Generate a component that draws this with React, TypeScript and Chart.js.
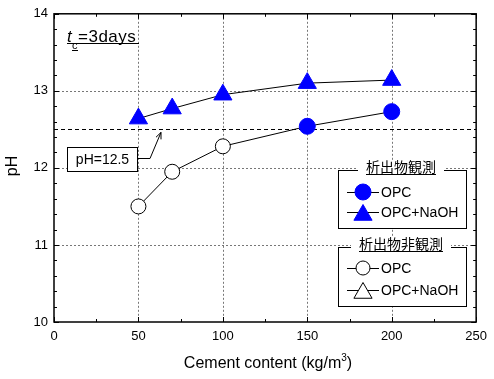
import React, { useEffect, useRef } from "react";
import { Chart, registerables } from "chart.js";
Chart.register(...registerables);

// ---- data ----
const cementOPC = [50, 70, 100, 150, 200];
const phOPC = [11.5, 11.95, 12.28, 12.54, 12.73];
const precipitateOPC = [false, false, false, true, true];
const cementNaOH = [50, 70, 100, 150, 200];
const phNaOH = [12.64, 12.77, 12.95, 13.1, 13.14];
const xTicks = [0, 50, 100, 150, 200, 250];
const yTicks = [10, 11, 12, 13, 14];
const thresholdPH = 12.5;
const thresholdLabel = "pH=12.5";
const legendGroups = ["析出物観測", "析出物非観測"];
const legendSeries = ["OPC", "OPC+NaOH"];
const xTitle = "Cement content (kg/m";
const yTitle = "pH";

const FONT = '"Liberation Sans", Arial, sans-serif';
const CJK = '"Noto Sans CJK JP", sans-serif';
const BLUE = "#0000ff";

function drawCircle(ctx: CanvasRenderingContext2D, x: number, y: number, r: number, filled: boolean) {
  ctx.beginPath();
  ctx.arc(x, y, r, 0, Math.PI * 2);
  ctx.fillStyle = filled ? BLUE : "#fff";
  ctx.fill();
  ctx.strokeStyle = filled ? BLUE : "#000";
  ctx.lineWidth = 1;
  ctx.stroke();
}
function drawTri(ctx: CanvasRenderingContext2D, x: number, y: number, r: number, filled: boolean) {
  ctx.beginPath();
  for (let i = 0; i < 3; i++) {
    const a = (i * 2 * Math.PI) / 3;
    const px = x + Math.sin(a) * r;
    const py = y - Math.cos(a) * r;
    if (i === 0) ctx.moveTo(px, py);
    else ctx.lineTo(px, py);
  }
  ctx.closePath();
  ctx.fillStyle = filled ? BLUE : "#fff";
  ctx.fill();
  ctx.strokeStyle = filled ? BLUE : "#000";
  ctx.lineWidth = 1;
  ctx.stroke();
}

const decor = {
  id: "decor",
  beforeDatasetsDraw(chart: any) {
    const { ctx, chartArea: a, scales } = chart;
    const x = scales.x, y = scales.y;
    ctx.save();
    ctx.strokeStyle = "#777";
    ctx.lineWidth = 1;
    ctx.setLineDash([2, 2]);
    for (const v of xTicks) {
      if (v <= x.min || v >= x.max) continue;
      const px = Math.round(x.getPixelForValue(v)) + 0.5;
      ctx.beginPath(); ctx.moveTo(px, a.top); ctx.lineTo(px, a.bottom); ctx.stroke();
    }
    for (const v of yTicks) {
      if (v <= y.min || v >= y.max) continue;
      const py = Math.round(y.getPixelForValue(v)) + 0.5;
      ctx.beginPath(); ctx.moveTo(a.left, py); ctx.lineTo(a.right, py); ctx.stroke();
    }
    ctx.strokeStyle = "#000";
    ctx.setLineDash([4, 3]);
    const ty = Math.round(y.getPixelForValue(thresholdPH)) + 0.5;
    ctx.beginPath(); ctx.moveTo(a.left, ty); ctx.lineTo(a.right, ty); ctx.stroke();
    ctx.restore();
  },
  afterDatasetsDraw(chart: any) {
    const { ctx, chartArea: a, scales } = chart;
    const x = scales.x, y = scales.y;
    ctx.save();
    ctx.setLineDash([]);
    // frame
    ctx.strokeStyle = "#000";
    ctx.lineWidth = 1.5;
    ctx.strokeRect(a.left, a.top, a.right - a.left, a.bottom - a.top);
    // ticks
    ctx.lineWidth = 1;
    for (let v = x.min; v <= x.max + 0.001; v += 25) {
      const major = Math.abs(v % 50) < 0.001;
      const len = major ? 5 : 3;
      const px = Math.round(x.getPixelForValue(v)) + 0.5;
      ctx.beginPath();
      ctx.moveTo(px, a.bottom); ctx.lineTo(px, a.bottom - len);
      ctx.moveTo(px, a.top); ctx.lineTo(px, a.top + len);
      ctx.stroke();
    }
    for (let i = 0; i <= 20; i++) {
      const v = y.min + i * 0.2;
      const major = i % 5 === 0;
      const len = major ? 5 : 3;
      const py = Math.round(y.getPixelForValue(v)) + 0.5;
      ctx.beginPath();
      ctx.moveTo(a.left, py); ctx.lineTo(a.left + len, py);
      ctx.moveTo(a.right, py); ctx.lineTo(a.right - len, py);
      ctx.stroke();
    }

    // threshold annotation
    ctx.fillStyle = "#fff";
    ctx.fillRect(67, 147, 70, 24);
    ctx.strokeStyle = "#000";
    ctx.strokeRect(67.5, 147.5, 70, 24);
    ctx.fillStyle = "#000";
    ctx.font = `14px ${FONT}`;
    ctx.textAlign = "center";
    ctx.textBaseline = "middle";
    ctx.fillText(thresholdLabel, 102.5, 160);
    const tipX = 161, tipY = y.getPixelForValue(thresholdPH) + 3;
    ctx.beginPath();
    ctx.moveTo(137.5, 158.5); ctx.lineTo(150, 158.5); ctx.lineTo(tipX, tipY);
    ctx.stroke();
    const ang = Math.atan2(tipY - 158.5, tipX - 150);
    ctx.beginPath();
    for (const s of [-1, 1]) {
      ctx.moveTo(tipX, tipY);
      ctx.lineTo(tipX - 7 * Math.cos(ang + s * 0.4), tipY - 7 * Math.sin(ang + s * 0.4));
    }
    ctx.stroke();

    // legends
    const boxes = [
      { top: 170, bottom: 228, rows: [192, 212], filled: true },
      { top: 247, bottom: 306, rows: [268, 290], filled: false },
    ];
    boxes.forEach((b, gi) => {
      ctx.fillStyle = "#fff";
      ctx.fillRect(338, b.top, 128, b.bottom - b.top);
      ctx.strokeStyle = "#000";
      ctx.lineWidth = 1;
      ctx.strokeRect(338.5, b.top + 0.5, 128, b.bottom - b.top);
      ctx.font = `14px ${CJK}`;
      const title = legendGroups[gi];
      const tw = ctx.measureText(title).width;
      const cx = 401;
      ctx.fillStyle = "#fff";
      ctx.fillRect(cx - tw / 2 - 8, b.top - 10, tw + 16, 14);
      ctx.fillStyle = "#000";
      ctx.textAlign = "center";
      ctx.textBaseline = "middle";
      ctx.fillText(title, cx, b.top - 3);
      ctx.beginPath();
      ctx.moveTo(cx - tw / 2, b.top + 4.5); ctx.lineTo(cx + tw / 2, b.top + 4.5);
      ctx.stroke();
      b.rows.forEach((ry, si) => {
        ctx.strokeStyle = "#000";
        ctx.lineWidth = 1;
        ctx.beginPath();
        ctx.moveTo(347, ry + 0.5); ctx.lineTo(379, ry + 0.5);
        ctx.stroke();
        if (si === 0) drawCircle(ctx, 363, ry, b.filled ? 8 : 7, b.filled);
        else drawTri(ctx, 363, ry + 3, 10.5, b.filled);
        ctx.fillStyle = "#000";
        ctx.font = `14px ${FONT}`;
        ctx.textAlign = "left";
        ctx.textBaseline = "middle";
        ctx.fillText(legendSeries[si], 381, ry + 1);
      });
    });

    // t_c = 3days label
    ctx.fillStyle = "#000";
    ctx.textAlign = "left";
    ctx.textBaseline = "alphabetic";
    ctx.font = `italic 17px ${FONT}`;
    ctx.fillText("t", 67, 42);
    ctx.font = `17px ${FONT}`;
    (ctx as any).letterSpacing = "0.5px";
    ctx.fillText("=3days", 78, 42);
    (ctx as any).letterSpacing = "0px";
    ctx.font = `11px ${FONT}`;
    ctx.fillText("c", 72, 49);
    ctx.strokeStyle = "#000";
    ctx.lineWidth = 1;
    ctx.beginPath();
    ctx.moveTo(67, 43.5); ctx.lineTo(139, 43.5);
    ctx.moveTo(72, 50.5); ctx.lineTo(78, 50.5);
    ctx.stroke();

    // axis titles
    ctx.font = `16px ${FONT}`;
    const w1 = ctx.measureText(xTitle).width;
    ctx.font = `10px ${FONT}`;
    const w2 = ctx.measureText("3").width;
    ctx.font = `16px ${FONT}`;
    const w3 = ctx.measureText(")").width;
    const total = w1 + w2 + w3;
    let sx = 268 - total / 2;
    ctx.fillText(xTitle, sx, 368);
    ctx.font = `10px ${FONT}`;
    ctx.fillText("3", sx + w1, 361);
    ctx.font = `16px ${FONT}`;
    ctx.fillText(")", sx + w1 + w2, 368);

    ctx.save();
    ctx.translate(13, 166);
    ctx.rotate(-Math.PI / 2);
    ctx.textAlign = "center";
    ctx.textBaseline = "middle";
    ctx.fillText(yTitle, 0, 0);
    ctx.restore();

    ctx.restore();
  },
};

export default function App() {
  const ref = useRef<HTMLCanvasElement>(null);
  useEffect(() => {
    if (!ref.current) return;
    const chart = new Chart(ref.current, {
      type: "scatter",
      data: {
        datasets: [
          {
            label: "OPC",
            data: cementOPC.map((c, i) => ({ x: c, y: phOPC[i] })),
            showLine: true,
            borderColor: "#000",
            borderWidth: 1,
            pointStyle: "circle",
            pointRadius: (c: any) => (precipitateOPC[c.dataIndex] ? 8 : 7.5),
            pointBackgroundColor: (c: any) => (precipitateOPC[c.dataIndex] ? BLUE : "#fff"),
            pointBorderColor: (c: any) => (precipitateOPC[c.dataIndex] ? BLUE : "#000"),
            pointBorderWidth: 1,
          },
          {
            label: "OPC+NaOH",
            data: cementNaOH.map((c, i) => ({ x: c, y: phNaOH[i] })),
            showLine: true,
            borderColor: "#000",
            borderWidth: 1,
            pointStyle: "triangle",
            pointRadius: 10.5,
            pointBackgroundColor: BLUE,
            pointBorderColor: BLUE,
            pointBorderWidth: 1,
          },
        ],
      },
      options: {
        responsive: false,
        animation: false,
        events: [],
        layout: { padding: { top: 12, right: 12, left: 0, bottom: 0 } },
        plugins: { legend: { display: false }, tooltip: { enabled: false } },
        scales: {
          x: {
            type: "linear",
            min: 0,
            max: 250,
            afterBuildTicks: (s: any) => { s.ticks = xTicks.map((v) => ({ value: v })); },
            afterFit: (s: any) => { s.height = 57; },
            grid: { display: false, drawTicks: false },
            border: { display: false },
            ticks: { color: "#000", font: { family: FONT, size: 13 }, padding: 7, maxRotation: 0 },
          },
          y: {
            type: "linear",
            min: 10,
            max: 14,
            afterBuildTicks: (s: any) => { s.ticks = yTicks.map((v) => ({ value: v })); },
            afterFit: (s: any) => { s.width = 54; },
            grid: { display: false, drawTicks: false },
            border: { display: false },
            ticks: { color: "#000", font: { family: FONT, size: 13 }, padding: 6 },
          },
        },
      },
      plugins: [decor],
    } as any);
    return () => chart.destroy();
  }, []);
  return (
    <div style={{ position: "absolute", left: 0, top: 0, width: 494, height: 379, background: "#fff" }}>
      <canvas ref={ref} width={494} height={379} style={{ display: "block" }} />
    </div>
  );
}
